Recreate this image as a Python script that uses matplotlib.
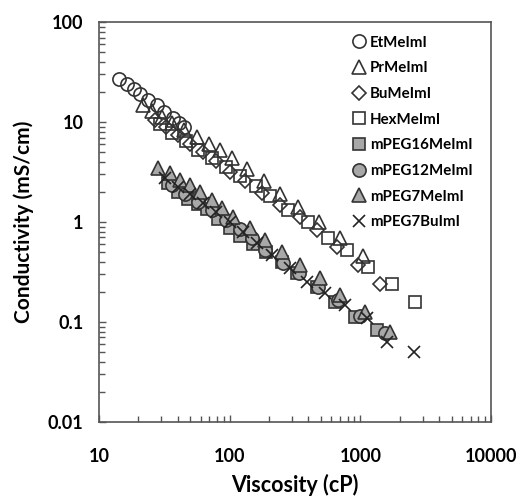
import matplotlib
matplotlib.use('Agg')
import matplotlib.pyplot as plt
from matplotlib.ticker import LogLocator, FuncFormatter, NullFormatter

plt.rcParams['font.family'] = ['Lato', 'DejaVu Sans']
plt.rcParams['font.weight'] = 'bold'

# Viscosity (cP) and conductivity (mS/cm)
et_visc = [14.3, 16.3, 18.5, 20.6, 23.9, 27.7, 31.5, 37.1, 41.2, 44.7]
et_cond = [26.7, 23.8, 21.2, 19.1, 16.6, 14.8, 12.7, 10.9, 9.7, 8.85]

pr_visc = [21.7, 25.5, 30.4, 36.3, 44.8, 56.3, 69.6, 84.6, 104, 136, 184, 244, 335, 485, 703, 1054]
pr_cond = [14.8, 12.9, 11.2, 9.77, 8.3, 7.08, 6.03, 5.25, 4.37, 3.39, 2.57, 1.91, 1.41, 1.0, 0.69, 0.457]

bu_visc = [26.8, 32.6, 40.3, 49.8, 62.7, 78.8, 101, 131, 178, 244, 347, 469, 667, 966, 1423]
bu_cond = [10.5, 8.91, 7.41, 6.03, 5.01, 4.07, 3.16, 2.57, 1.95, 1.48, 1.12, 0.83, 0.562, 0.372, 0.24]

hex_visc = [29.3, 36.3, 46.4, 57.4, 73.5, 94.0, 120, 160, 204, 281, 400, 569, 795, 1151, 1758, 2640]
hex_cond = [9.55, 7.76, 6.46, 5.25, 4.37, 3.55, 2.88, 2.29, 1.82, 1.32, 1.0, 0.69, 0.525, 0.355, 0.24, 0.158]

peg16_visc = [33.8, 40.3, 48.1, 57.4, 67.3, 81.6, 101, 120, 151, 190, 252, 329, 469, 643, 916, 1350]
peg16_cond = [2.45, 2.0, 1.70, 1.51, 1.35, 1.07, 0.87, 0.724, 0.603, 0.50, 0.398, 0.309, 0.224, 0.158, 0.112, 0.083]

peg12_visc = [36.3, 45.6, 57.4, 73.5, 94.0, 120, 149, 187, 257, 341, 477, 678, 1000, 1556]
peg12_cond = [2.34, 1.91, 1.58, 1.32, 1.05, 0.85, 0.69, 0.525, 0.389, 0.309, 0.224, 0.166, 0.115, 0.078]

peg7me_visc = [28.3, 35.0, 41.8, 49.8, 59.4, 73.5, 87.7, 106, 143.5, 187, 252, 347, 494, 703, 1091, 1698]
peg7me_cond = [3.47, 3.09, 2.63, 2.34, 2.0, 1.66, 1.38, 1.12, 0.87, 0.66, 0.50, 0.372, 0.275, 0.186, 0.126, 0.079]

peg7bu_visc = [32.1, 40.3, 49.8, 62.7, 78.8, 101, 127, 163, 212, 291, 393, 540, 768, 1132, 1610, 2594]
peg7bu_cond = [2.75, 2.24, 1.91, 1.55, 1.26, 1.0, 0.79, 0.617, 0.468, 0.347, 0.251, 0.195, 0.148, 0.110, 0.063, 0.050]

edge = '#333333'
gray = '#a8a8a8'

fig = plt.figure(figsize=(5.16, 4.97), dpi=100)
ax = fig.add_axes([0.1919, 0.1509, 0.7597, 0.8048])

ax.plot(et_visc, et_cond, 'o', ms=9.5, mfc='none', mec=edge, mew=1.2, label='EtMeImI')
ax.plot(pr_visc, pr_cond, '^', ms=9.5, mfc='none', mec=edge, mew=1.2, label='PrMeImI')
ax.plot(bu_visc, bu_cond, 'D', ms=7, mfc='none', mec=edge, mew=1.2, label='BuMeImI')
ax.plot(hex_visc, hex_cond, 's', ms=9, mfc='none', mec=edge, mew=1.2, label='HexMeImI')
ax.plot(peg16_visc, peg16_cond, 's', ms=9, mfc=gray, mec=edge, mew=1.2, label='mPEG16MeImI')
ax.plot(peg12_visc, peg12_cond, 'o', ms=9.5, mfc=gray, mec=edge, mew=1.2, label='mPEG12MeImI')
ax.plot(peg7me_visc, peg7me_cond, '^', ms=9.5, mfc=gray, mec=edge, mew=1.2, label='mPEG7MeImI')
ax.plot(peg7bu_visc, peg7bu_cond, 'x', ms=8.5, mec='#222222', mew=1.2, label='mPEG7BuImI')

ax.set_xscale('log')
ax.set_yscale('log')
ax.set_xlim(10, 10000)
ax.set_ylim(0.01, 100)

fmt = FuncFormatter(lambda v, p: '{:g}'.format(v))
ax.xaxis.set_major_formatter(fmt)
ax.yaxis.set_major_formatter(fmt)
ax.xaxis.set_minor_locator(LogLocator(base=10, subs=range(2, 10)))
ax.yaxis.set_minor_locator(LogLocator(base=10, subs=range(2, 10)))
ax.xaxis.set_minor_formatter(NullFormatter())
ax.yaxis.set_minor_formatter(NullFormatter())

ax.tick_params(which='both', direction='in', colors='#555555', labelcolor='black',
               top=False, right=False, labelsize=13)
ax.tick_params(axis='x', which='both', pad=19)
ax.tick_params(axis='y', which='both', pad=11)
ax.tick_params(which='major', length=5, width=1)
ax.tick_params(which='minor', length=4, width=1)
for s in ax.spines.values():
    s.set_color('#555555')
    s.set_linewidth(1.2)

ax.set_xlabel('Viscosity (cP)', fontsize=15.5, fontweight='bold', labelpad=6)
ax.set_ylabel('Conductivity (mS/cm)', fontsize=15, fontweight='bold', labelpad=10)

ax.legend(loc='upper left', bbox_to_anchor=(0.61, 1.0), frameon=False,
          handlelength=1.0, handletextpad=0.2, labelspacing=0.78,
          prop={'size': 10.8, 'weight': 'bold'}, borderaxespad=0.5)

plt.savefig('out.png', dpi=100)
